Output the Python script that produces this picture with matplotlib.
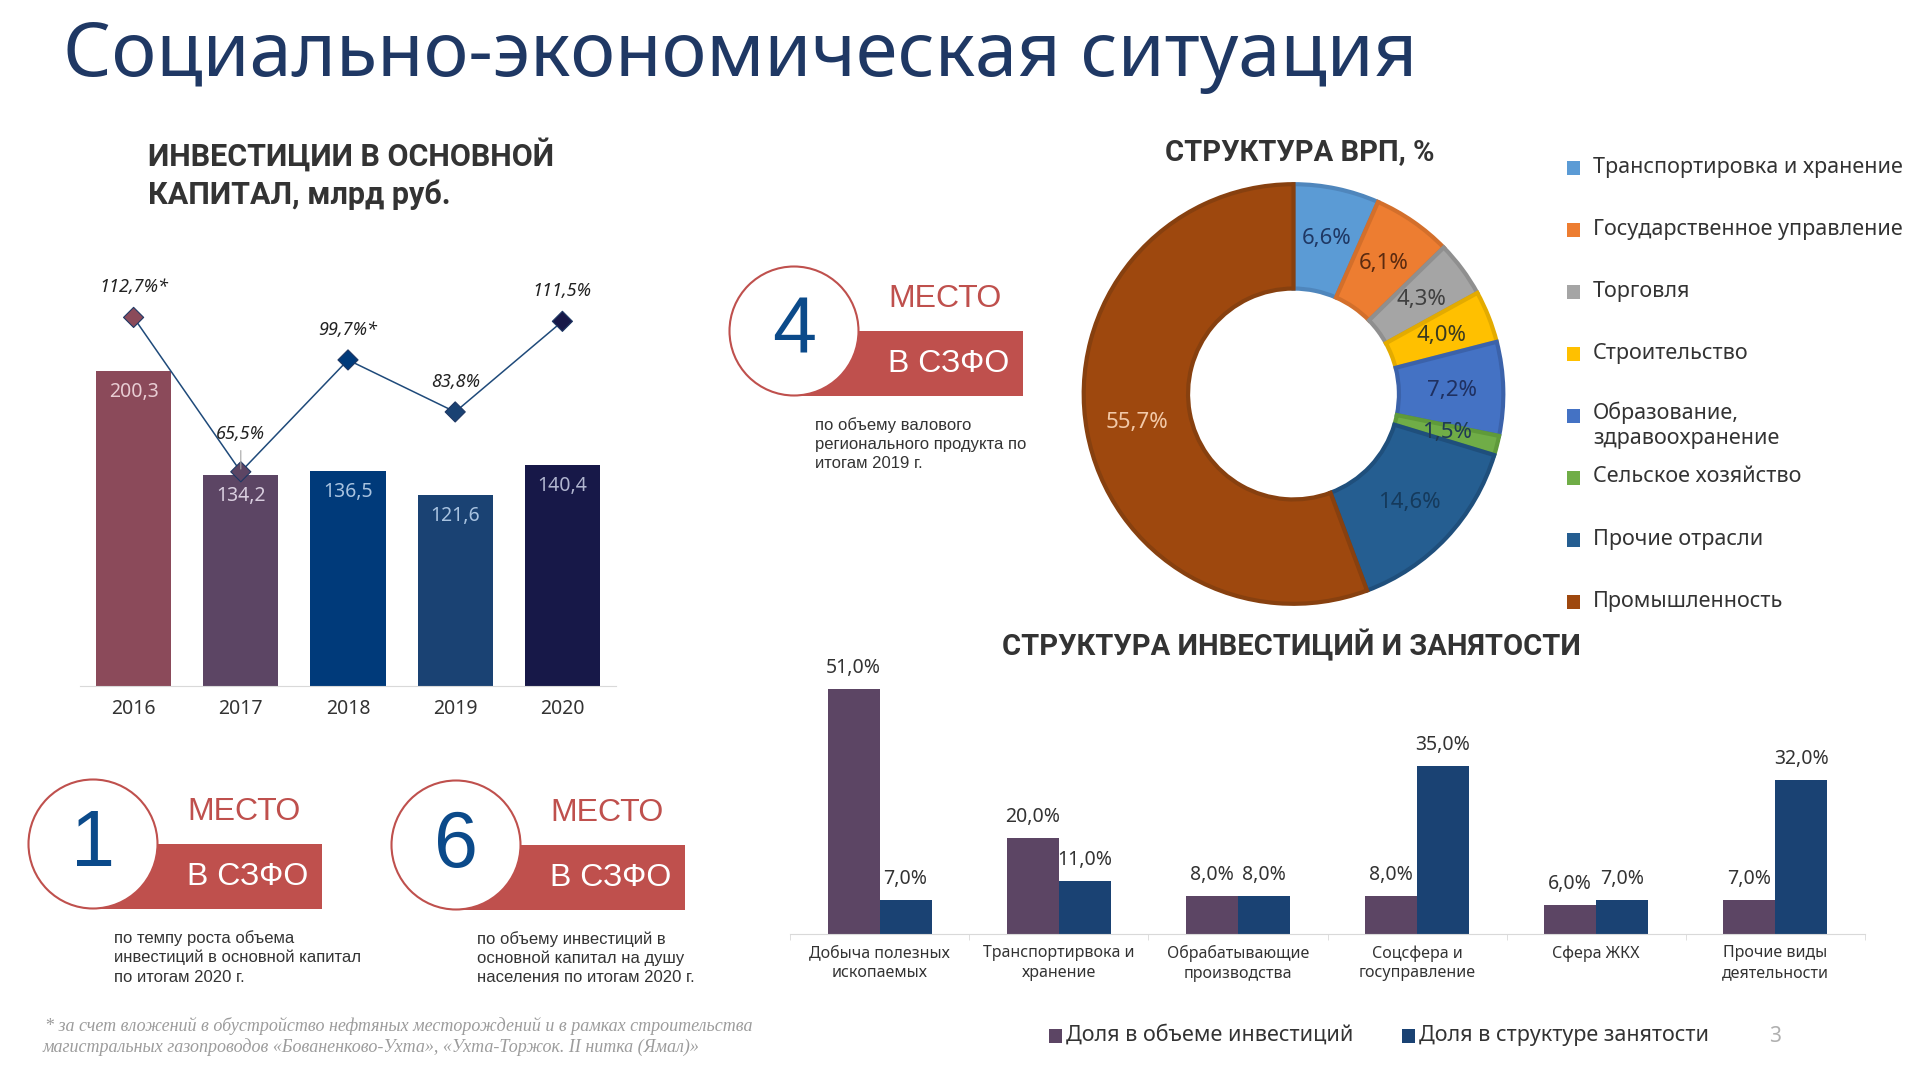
import matplotlib
matplotlib.use("Agg")
import matplotlib.pyplot as plt
from matplotlib.patches import Circle, Rectangle

W, H = 1920, 1080

# investments in fixed capital
years = ["2016", "2017", "2018", "2019", "2020"]
invest_values = [200.3, 134.2, 136.5, 121.6, 140.4]
invest_labels = ["200,3", "134,2", "136,5", "121,6", "140,4"]
growth_values = [112.7, 65.5, 99.7, 83.8, 111.5]
growth_labels = ["112,7%*", "65,5%", "99,7%*", "83,8%", "111,5%"]
invest_colors = ["#8B4A5A", "#5C4564", "#003A7A", "#1A4273", "#171848"]
invest_text_colors = ["#E8CDD3", "#D9CEDF", "#A9C3E0", "#A9C3E0", "#B0B5CF"]

# GRP structure
grp_names = ["Транспортировка и хранение", "Государственное управление", "Торговля",
             "Строительство", "Образование,\nздравоохранение", "Сельское хозяйство",
             "Прочие отрасли", "Промышленность"]
grp_values = [6.6, 6.1, 4.3, 4.0, 7.2, 1.5, 14.6, 55.7]
grp_labels = ["6,6%", "6,1%", "4,3%", "4,0%", "7,2%", "1,5%", "14,6%", "55,7%"]
grp_colors = ["#5B9BD5", "#ED7D31", "#A5A5A5", "#FFC000", "#4472C4", "#70AD47", "#255E91", "#9E480E"]
grp_edges = ["#4F86BC", "#D36F2B", "#8F8F8F", "#E3AB00", "#3B62AA", "#5F9A3A", "#1F4F7C", "#87400F"]
grp_text_colors = ["#1F3864", "#5A2A10", "#404040", "#3A3A20", "#1F3060", "#1F3A55", "#153A5C", "#F2C9A8"]

# investments vs employment
struct_cats = ["Добыча полезных\nископаемых", "Транспортирвока и\nхранение", "Обрабатывающие\nпроизводства",
               "Соцсфера и\nгосуправление", "Сфера ЖКХ", "Прочие виды\nдеятельности"]
invest_share = [51, 20, 8, 8, 6, 7]
employ_share = [7, 11, 8, 35, 7, 32]

TITLE = "#1F3864"
RED = "#BF504D"
BLUE = "#0B4A8A"
DARK = "#333333"
FONT = "Noto Sans"


def box(left, top, right, bottom):
    return fig.add_axes([left / W, 1 - bottom / H, (right - left) / W, (bottom - top) / H])


def pct(v):
    return f"{v:.1f}".replace(".", ",") + "%"


fig = plt.figure(figsize=(W / 100, H / 100), dpi=100, facecolor="white")
plt.rcParams["font.family"] = [FONT, "DejaVu Sans"]

# overlay in pixel coordinates for the slide furniture
page = fig.add_axes([0, 0, 1, 1], zorder=0)
page.set_xlim(0, W)
page.set_ylim(H, 0)
page.axis("off")

page.text(63, 56, "Социально-экономическая ситуация", fontsize=54.5, color=TITLE, weight="semibold",
          family="Noto Sans", va="center")
page.text(148, 155, "ИНВЕСТИЦИИ В ОСНОВНОЙ", fontsize=22, color=DARK, weight="bold", va="center", family="Roboto")
page.text(148, 195, "КАПИТАЛ, млрд руб.", fontsize=22, color=DARK, weight="bold", va="center", family="Roboto")
page.text(1300, 152, "СТРУКТУРА ВРП, %", fontsize=21, color=DARK, weight="bold", va="center", ha="center", family="Roboto")
page.text(1291, 645, "СТРУКТУРА ИНВЕСТИЦИЙ И ЗАНЯТОСТИ", fontsize=21, color=DARK, weight="bold", va="center", ha="center", family="Roboto")


def badge(cx, cy, number, lines):
    page.add_patch(Rectangle((cx, cy), 229, 64.5, color=RED, zorder=1, lw=0))
    page.add_patch(Circle((cx, cy), 64.5, fc="white", ec=RED, lw=1.5, zorder=2))
    page.text(cx, cy + 1, number, fontsize=57, color=BLUE, ha="center", va="center", family="Liberation Sans", zorder=3)
    page.text(cx + 94, cy - 32, "МЕСТО", fontsize=23, color=RED, va="center", family="Liberation Sans", zorder=3)
    page.text(cx + 94, cy + 33, "В СЗФО", fontsize=23, color="white", va="center", family="Liberation Sans", zorder=3)
    for i, line in enumerate(lines):
        page.text(cx + 21, cy + 94 + i * 19.5, line, fontsize=12, color=DARK, va="center", family="Liberation Sans", zorder=3)


badge(794, 331, "4", ["по объему валового", "регионального продукта по", "итогам 2019 г."])
badge(93, 844, "1", ["по темпу роста объема", "инвестиций в основной капитал", "по итогам 2020 г."])
badge(456, 845, "6", ["по объему инвестиций в", "основной капитал на душу", "населения по итогам 2020 г."])

page.text(45, 1026, "* за счет вложений в обустройство нефтяных месторождений и в рамках строительства",
          fontsize=13, color="#9C9C9C", style="italic", va="center", family="Liberation Serif")
page.text(43, 1047, "магистральных газопроводов «Бованенково-Ухта», «Ухта-Торжок. II нитка (Ямал)»",
          fontsize=13, color="#9C9C9C", style="italic", va="center", family="Liberation Serif")
page.text(1775, 1036, "3", fontsize=15, color="#B0B0B0", ha="center", va="center")

# left chart: bars with growth line on a second scale
ax1 = box(80, 200, 616, 686)
ax1.patch.set_alpha(0)
x = range(len(years))
ax1.bar(x, invest_values, width=0.7, color=invest_colors)
ax1.set_xlim(-0.5, 4.5)
ax1.set_ylim(0, 309)
ax1.set_yticks([])
ax1.set_xticks(list(x), years, fontsize=14, color=DARK)
ax1.tick_params(axis="x", length=0, pad=9)
for s in ["top", "left", "right"]:
    ax1.spines[s].set_visible(False)
ax1.spines["bottom"].set_color("#D9D9D9")
for i, v in enumerate(invest_values):
    ax1.annotate(invest_labels[i], (i, v), xytext=(0, -21), textcoords="offset pixels", ha="center", va="center",
                 fontsize=14, color=invest_text_colors[i], weight="medium")

ax1b = ax1.twinx()
ax1b.patch.set_alpha(0)
ax1b.set_ylim(0, 148.6)
ax1b.axis("off")
ax1b.plot(x, growth_values, color="#1F4A7A", lw=1.1, zorder=2)
ax1b.scatter(x, growth_values, marker="D", s=105, c=invest_colors, edgecolors="#1F3864", linewidths=0.8, zorder=3)
for i, v in enumerate(growth_values):
    dy = 38 if i == 1 else 30
    ax1b.annotate(growth_labels[i], (i, v), xytext=(0, dy), textcoords="offset pixels", ha="center", va="center",
                  fontsize=13, color="#222222", style="italic")
ax1b.annotate("", (1, growth_values[1]), xytext=(0, 24), textcoords="offset pixels",
              arrowprops=dict(arrowstyle="-", color="#A6A6A6", lw=0.8))

# donut
ax2 = box(1080.5, 181, 1506.5, 607)
wedges, _ = ax2.pie(grp_values, colors=grp_colors, startangle=90, counterclock=False, radius=0.985,
                    wedgeprops=dict(width=0.49, lw=3))
ax2.set_xlim(-1, 1)
ax2.set_ylim(-1, 1)
for w, edge in zip(wedges, grp_edges):
    w.set_edgecolor(edge)
    w.set_joinstyle("miter")
total = sum(grp_values)
acc = 0
import math
for v, lab, col in zip(grp_values, grp_labels, grp_text_colors):
    ang = math.radians((acc + v / 2) / total * 360)
    acc += v
    ax2.text(0.745 * math.sin(ang), 0.745 * math.cos(ang), lab, ha="center", va="center", fontsize=16, color=col)

# donut legend
legend_y = [168, 230, 292, 354, 416, 478, 540, 602]
for y, name, col in zip(legend_y, grp_names, grp_colors):
    page.add_patch(Rectangle((1567, y - 7), 13, 14, color=col, lw=0))
    page.text(1585, y - 2, name, fontsize=15.5, color=DARK, va="top" if "\n" in name else "center",
              linespacing=1.25) if False else None
    if "\n" in name:
        page.text(1593, y - 14, name, fontsize=15.5, color=DARK, va="top", linespacing=1.25)
    else:
        page.text(1593, y - 1, name, fontsize=15.5, color=DARK, va="center")

# bottom chart
ax3 = box(790, 660, 1865, 934)
ax3.patch.set_alpha(0)
pos = list(range(len(struct_cats)))
bw = 0.29
ax3.bar([p - bw / 2 for p in pos], invest_share, width=bw, color="#5C4564")
ax3.bar([p + bw / 2 for p in pos], employ_share, width=bw, color="#1A4273")
ax3.set_xlim(-0.5, 5.5)
ax3.set_ylim(0, 57.1)
ax3.set_yticks([])
ax3.set_xticks(pos, struct_cats, fontsize=11.5, color=DARK, linespacing=1.3)
ax3.set_xticks([p - 0.5 for p in pos] + [5.5], minor=True)
ax3.tick_params(axis="x", which="major", length=0, pad=8)
ax3.tick_params(axis="x", which="minor", length=4, color="#D9D9D9")
for s in ["top", "left", "right"]:
    ax3.spines[s].set_visible(False)
ax3.spines["bottom"].set_color("#D9D9D9")
for p, a, b in zip(pos, invest_share, employ_share):
    ax3.annotate(pct(a), (p - bw / 2, a), xytext=(0, 21), textcoords="offset pixels", ha="center", va="center", fontsize=14, color=DARK)
    ax3.annotate(pct(b), (p + bw / 2, b), xytext=(0, 21), textcoords="offset pixels", ha="center", va="center", fontsize=14, color=DARK)

page.add_patch(Rectangle((1049, 1029), 13, 14, color="#5C4564", lw=0))
page.text(1066, 1035, "Доля в объеме инвестиций", fontsize=15.5, color=DARK, va="center")
page.add_patch(Rectangle((1402, 1029), 13, 14, color="#1A4273", lw=0))
page.text(1419, 1035, "Доля в структуре занятости", fontsize=15.5, color=DARK, va="center")

fig.savefig("out.png", dpi=100)
